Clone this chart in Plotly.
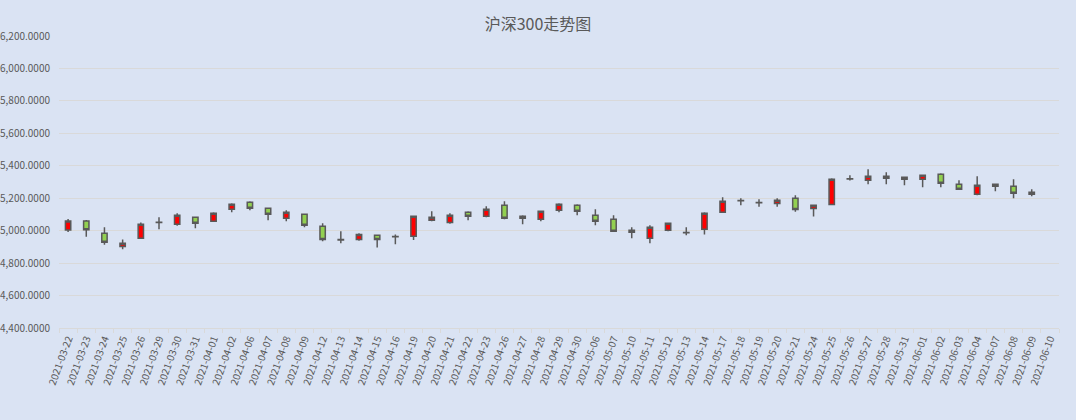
import plotly.graph_objects as go

# 沪深300 daily candles
dates = ["2021-03-22", "2021-03-23", "2021-03-24", "2021-03-25", "2021-03-26",
         "2021-03-29", "2021-03-30", "2021-03-31", "2021-04-01", "2021-04-02",
         "2021-04-06", "2021-04-07", "2021-04-08", "2021-04-09", "2021-04-12",
         "2021-04-13", "2021-04-14", "2021-04-15", "2021-04-16", "2021-04-19",
         "2021-04-20", "2021-04-21", "2021-04-22", "2021-04-23", "2021-04-26",
         "2021-04-27", "2021-04-28", "2021-04-29", "2021-04-30", "2021-05-06",
         "2021-05-07", "2021-05-10", "2021-05-11", "2021-05-12", "2021-05-13",
         "2021-05-14", "2021-05-17", "2021-05-18", "2021-05-19", "2021-05-20",
         "2021-05-21", "2021-05-24", "2021-05-25", "2021-05-26", "2021-05-27",
         "2021-05-28", "2021-05-31", "2021-06-01", "2021-06-02", "2021-06-03",
         "2021-06-04", "2021-06-07", "2021-06-08", "2021-06-09", "2021-06-10"]

opens = [5004, 5060, 4984, 4903, 4953, 5050, 5039, 5082, 5058, 5132,
         5175, 5138, 5076, 5101, 5027, 4943, 4946, 4971, 4962, 4965,
         5064, 5051, 5113, 5089, 5157, 5076, 5070, 5126, 5157, 5095,
         5070, 5002, 4953, 5002, 4987, 5008, 5113, 5184, 5172, 5167,
         5200, 5136, 5161, 5318, 5311, 5336, 5317, 5317, 5348, 5286,
         5225, 5286, 5274, 5225, None]
highs = [5072, 5066, 5021, 4946, 5051, 5082, 5107, 5082, 5113, 5169,
         5181, 5138, 5126, 5101, 5045, 4996, 4984, 4971, 4977, 5089,
         5120, 5107, 5120, 5150, 5181, 5095, 5120, 5169, 5163, 5132,
         5095, 5021, 5033, 5051, 5021, 5113, 5206, 5200, 5194, 5200,
         5218, 5157, 5323, 5342, 5379, 5360, 5330, 5342, 5354, 5311,
         5336, 5286, 5317, 5255, None]
lows = [4992, 4963, 4913, 4885, 4953, 5008, 5031, 5015, 5058, 5113,
        5126, 5064, 5058, 5021, 4934, 4922, 4938, 4897, 4916, 4942,
        5058, 5043, 5064, 5082, 5070, 5039, 5058, 5113, 5095, 5033,
        4996, 4953, 4922, 4996, 4971, 4977, 5113, 5157, 5148, 5148,
        5117, 5087, 5161, 5309, 5286, 5286, 5280, 5268, 5268, 5255,
        5218, 5243, 5200, 5212, None]
closes = [5060, 5006, 4928, 4922, 5039, 5052, 5095, 5045, 5107, 5163,
          5138, 5101, 5113, 5033, 4946, 4945, 4977, 4946, 4964, 5089,
          5082, 5095, 5089, 5132, 5076, 5089, 5120, 5163, 5120, 5058,
          4996, 4990, 5021, 5045, 4989, 5107, 5181, 5186, 5174, 5187,
          5130, 5157, 5317, 5320, 5336, 5323, 5330, 5342, 5292, 5255,
          5280, 5274, 5231, 5237, None]

OUTLINE = "#595959"
TEXT = "#595959"
GRID = "#D9D9D9"
BG = "#DAE3F3"

fig = go.Figure(go.Candlestick(
    x=dates, open=opens, high=highs, low=lows, close=closes,
    increasing=dict(fillcolor="#FF0000", line=dict(color=OUTLINE, width=1.5)),
    decreasing=dict(fillcolor="#92D050", line=dict(color=OUTLINE, width=1.5)),
    whiskerwidth=0,
    showlegend=False,
))

fig.update_layout(
    width=1076, height=420,
    margin=dict(l=59, r=17, t=36, b=92),
    paper_bgcolor=BG, plot_bgcolor=BG,
    font=dict(family="Noto Sans CJK SC", color=TEXT),
    boxgap=0.58,
    title=dict(text="沪深300走势图", x=0.5, xanchor="center", y=0.943, yanchor="middle",
               font=dict(size=16, color=TEXT)),
)
fig.update_xaxes(
    type="category", categoryorder="array", categoryarray=dates,
    range=[-0.5, len(dates) - 0.5],
    rangeslider=dict(visible=False),
    showgrid=False, tickson="boundaries",
    ticks="outside", ticklen=4, tickcolor=GRID,
    showline=True, linecolor=GRID, linewidth=1,
    tickangle=-70, tickfont=dict(size=10, color=TEXT),
    automargin=False,
)
fig.update_yaxes(
    range=[4400, 6200], dtick=200, tickformat=",.4f",
    showgrid=True, gridcolor=GRID, gridwidth=1,
    zeroline=False, showline=False,
    tickfont=dict(size=10, color=TEXT), ticklabelstandoff=8,
    automargin=False,
)

# drop the page's default body margin so the figure sits at the window's corner
fig.write_html("out.html", config={"displayModeBar": False},
               post_script="document.body.style.margin='0';")
